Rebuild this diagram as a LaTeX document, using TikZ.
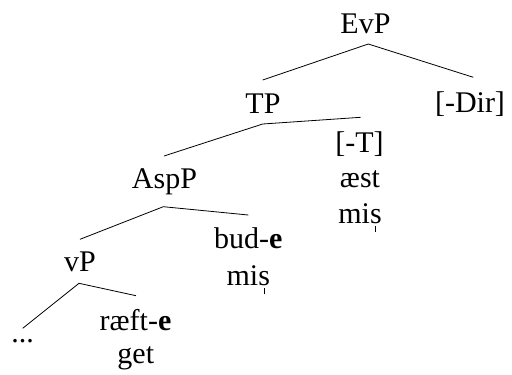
\documentclass[tikz,border=0pt]{standalone}
\usepackage{fontspec}
\setmainfont{Liberation Serif}
% s with a syllabic stroke below
\newcommand\sylS{\ooalign{s\cr\hidewidth\rule[-0.30em]{0.035em}{0.20em}\hidewidth\cr}}
\begin{document}
\begin{tikzpicture}[x=1pt,y=-1pt,
  lbl/.style={font=\fontsize{30}{36}\selectfont, inner sep=0pt, anchor=base},
  branch/.style={line width=0.8pt}]
\fill[white] (0,0) rectangle (512,375);
\useasboundingbox (0,0) rectangle (512,375);

% labels
\node[lbl] (EvP)  at (365.5,33)  {EvP};
\node[lbl] (TP)   at (263,113)   {TP};
\node[lbl] (Dir)  at (470,112)   {[-Dir]};
\node[lbl] (T1)   at (359.5,152) {[-T]};
\node[lbl] (T2)   at (360,187)   {æst};
\node[lbl] (T3)   at (360,223)   {mi\sylS};
\node[lbl] (AspP) at (164.5,188) {AspP};
\node[lbl] (B1)   at (248.3,248) {bud-\textbf{e}};
\node[lbl] (B2)   at (248.3,285) {mi\sylS};
\node[lbl] (vP)   at (80,271.7)  {vP};
\node[lbl] (dots) at (22.7,342.5){...};
\node[lbl] (R1)   at (135.5,330.5){ræft-\textbf{e}};
\node[lbl] (R2)   at (135.8,363) {get};

% branching points under each mother and line ends above each daughter
\path (EvP.base)  ++(2.8,11)   coordinate (EvP-m)
      (TP.base)   ++(-0.3,-33) coordinate (TP-d)
      (Dir.base)  ++(3.3,-34.7)coordinate (Dir-d)
      (TP.base)   ++(-0.3,11)  coordinate (TP-m)
      (AspP.base) ++(-0.5,-32) coordinate (AspP-d)
      (T1.base)   ++(1.2,-34.7)coordinate (T1-d)
      (AspP.base) ++(-1.2,18.7)coordinate (AspP-m)
      (vP.base)   ++(0,-32.4)  coordinate (vP-d)
      (B1.base)   ++(0,-33)    coordinate (B1-d)
      (vP.base)   ++(-1,11.6)  coordinate (vP-m)
      (dots.base) ++(0,-14.2)  coordinate (dots-d)
      (R1.base)   ++(0.5,-34.8)coordinate (R1-d);

% branches
\draw[branch] (TP-d) -- (EvP-m) -- (Dir-d);
\draw[branch] (AspP-d) -- (TP-m) -- (T1-d);
\draw[branch] (vP-d) -- (AspP-m) -- (B1-d);
\draw[branch] (dots-d) -- (vP-m) -- (R1-d);
\end{tikzpicture}
\end{document}
